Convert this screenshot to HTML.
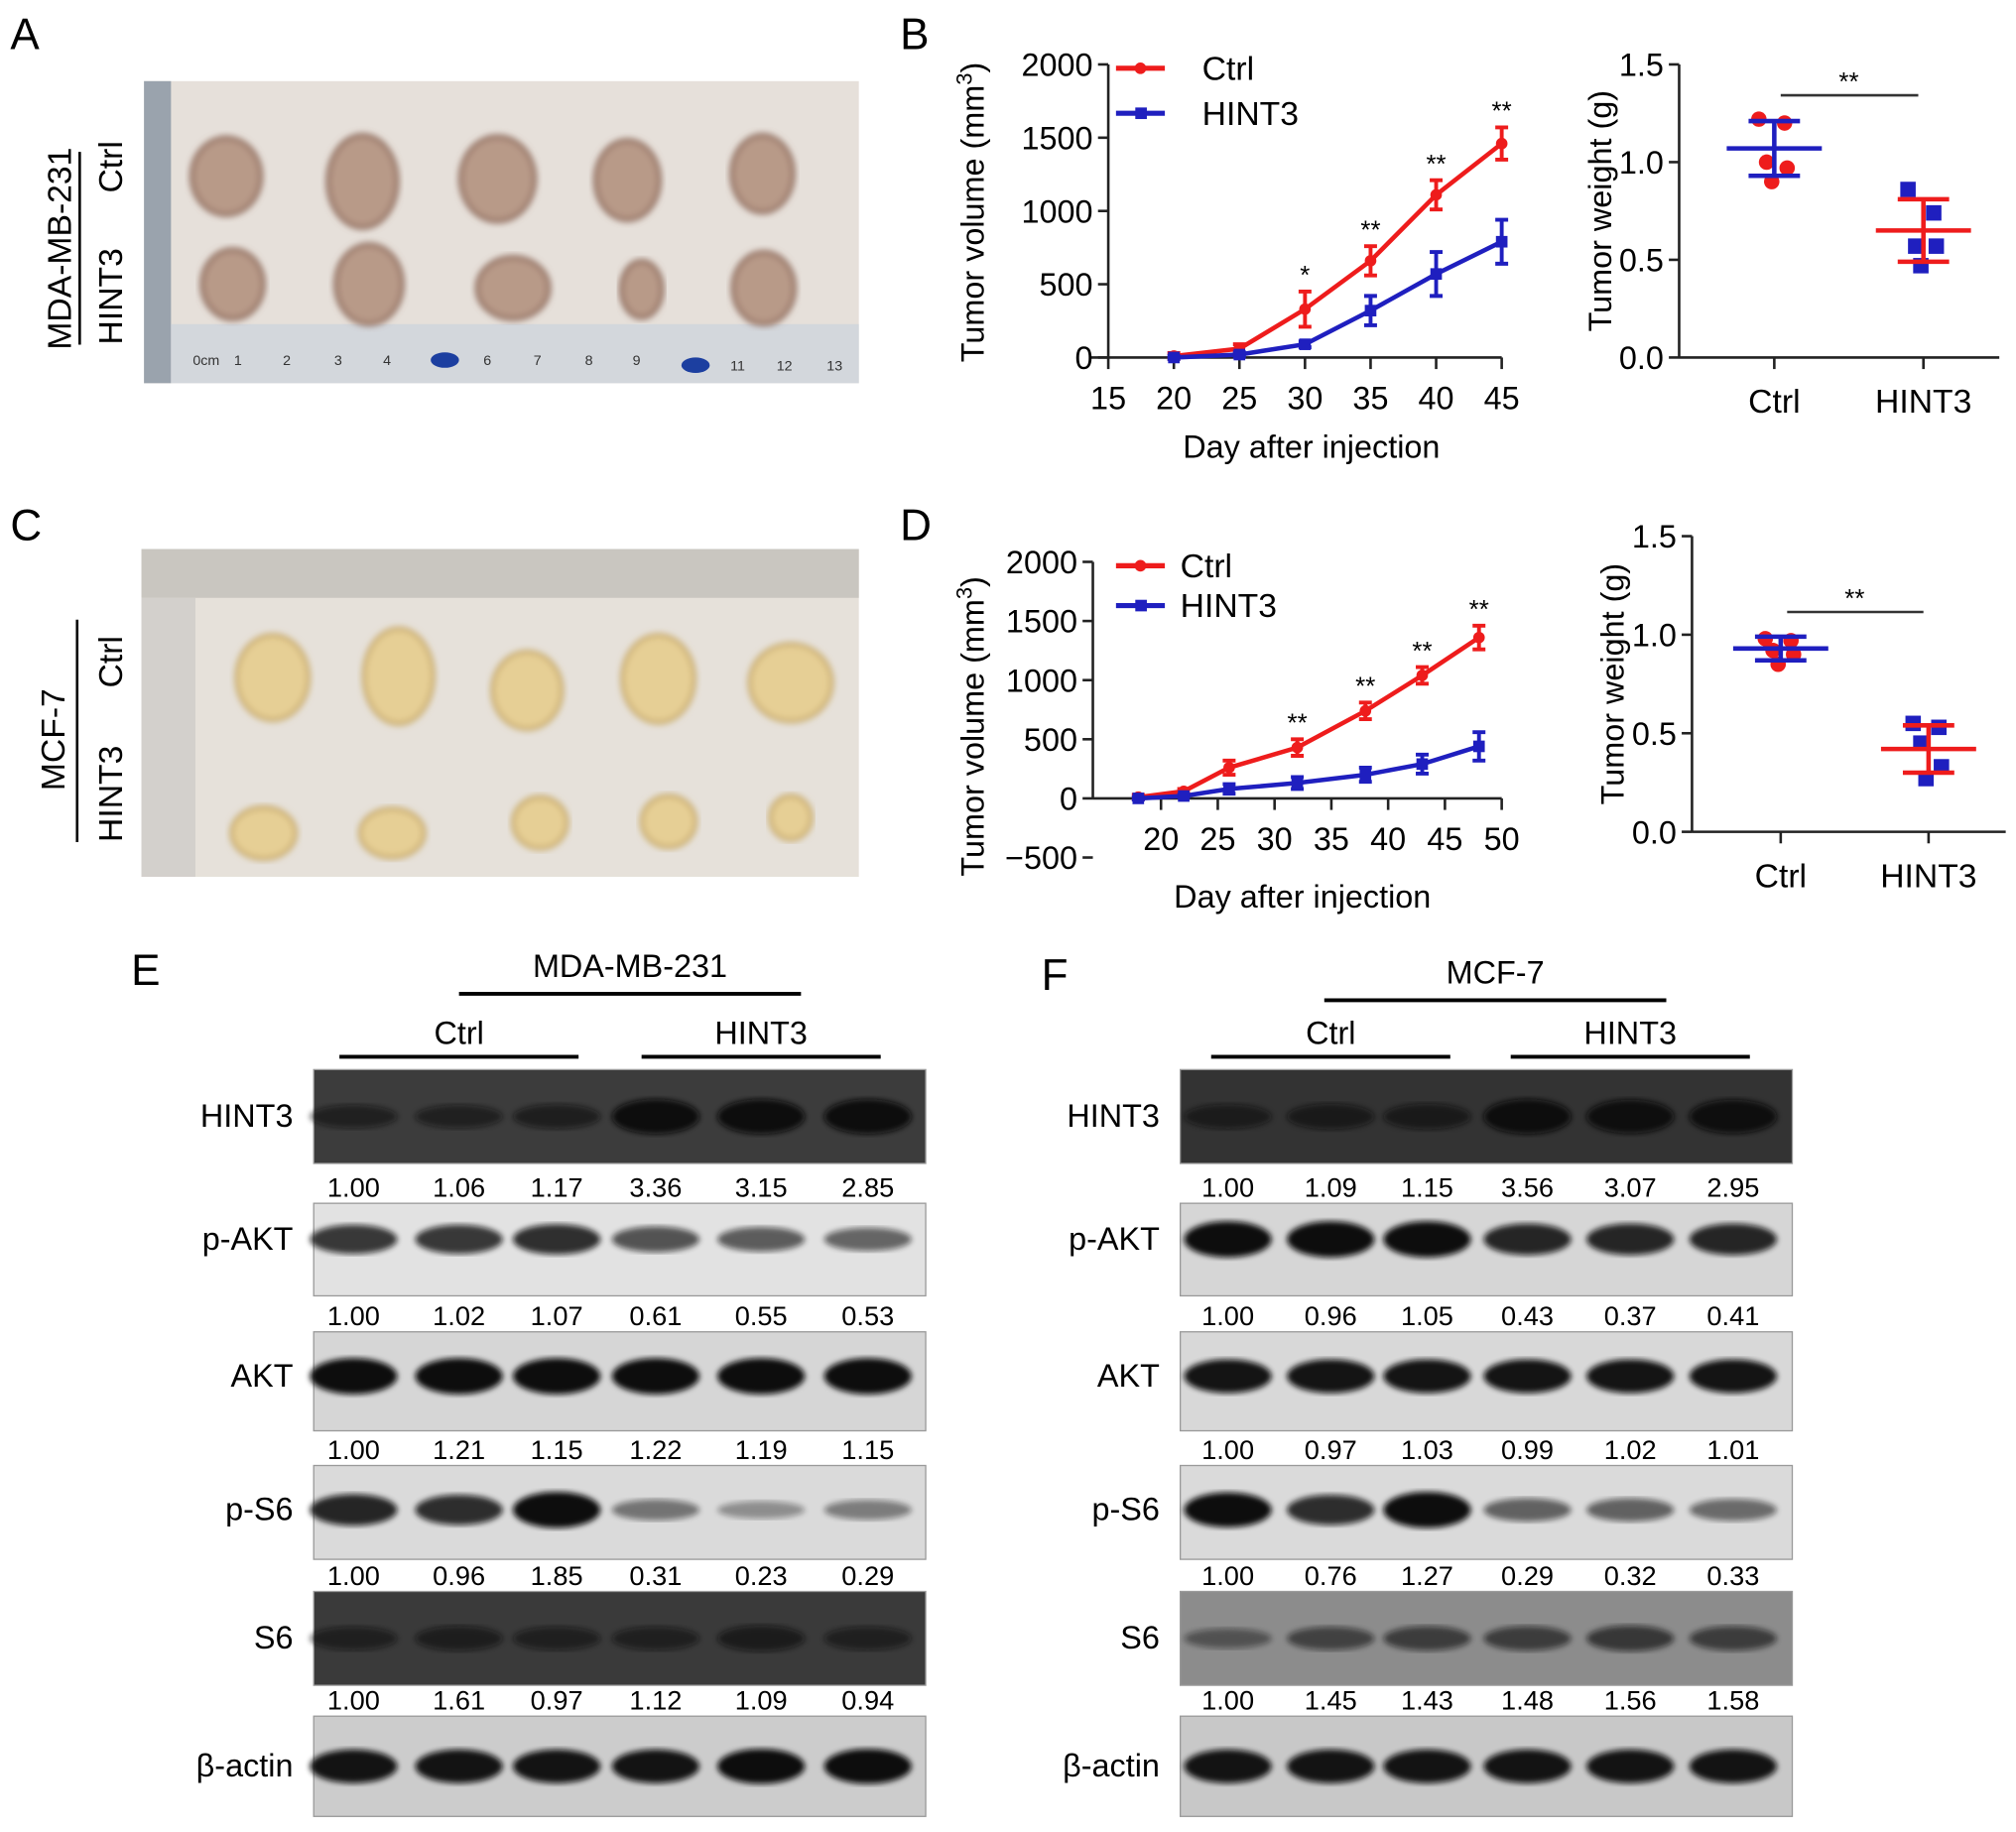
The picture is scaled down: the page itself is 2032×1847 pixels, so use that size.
<!DOCTYPE html>
<html><head><meta charset="utf-8">
<style>
html,body{margin:0;padding:0;background:#fff;}
svg{display:block;font-family:"Liberation Sans",Arial,sans-serif;}
</style></head>
<body>
<svg id="fig" width="2032" height="1847" viewBox="0 0 1568 1425" xmlns="http://www.w3.org/2000/svg">
<defs>
<filter id="blur2"><feGaussianBlur stdDeviation="2.5"/></filter>
<filter id="blur4"><feGaussianBlur stdDeviation="2.2"/></filter>
</defs>
<text x="8" y="38" font-size="34">A</text>
<text x="700" y="38" font-size="34">B</text>
<text x="8" y="420" font-size="34">C</text>
<text x="700" y="420" font-size="34">D</text>
<text x="102" y="766" font-size="34">E</text>
<text x="810" y="770" font-size="34">F</text>

<g>
<rect x="112" y="63" width="556" height="235" fill="#e6e0da"/>
<rect x="112" y="63" width="21" height="235" fill="#9aa3ad"/>
<rect x="133" y="252" width="535" height="46" fill="#d3d7dc"/>
<g id="tumorsA"></g>
<g font-size="11" fill="#333">
<text x="150" y="284">0cm</text><text x="182" y="284">1</text><text x="220" y="284">2</text><text x="260" y="284">3</text><text x="298" y="284">4</text>
<ellipse cx="346" cy="280" rx="11" ry="6" fill="#1c3fa0"/><text x="376" y="284">6</text><text x="415" y="284">7</text><text x="455" y="284">8</text><text x="492" y="284">9</text>
<ellipse cx="541" cy="284" rx="11" ry="6" fill="#1c3fa0"/><text x="568" y="288">11</text><text x="604" y="288">12</text><text x="643" y="288">13</text>
</g>
</g>
<g font-size="26">
<text transform="translate(55,272) rotate(-90)">MDA-MB-231</text>
<line x1="62" y1="268" x2="62" y2="118" stroke="#000" stroke-width="2"/>
<text transform="translate(95,150) rotate(-90)">Ctrl</text>
<text transform="translate(95,268) rotate(-90)">HINT3</text>
</g>

<g>
<rect x="110" y="427" width="558" height="255" fill="#e6e1da"/>
<rect x="110" y="427" width="558" height="38" fill="#c9c6c0"/>
<rect x="110" y="465" width="42" height="217" fill="#d3d0cc"/>
<g id="tumorsC"></g>
</g>
<g font-size="26">
<text transform="translate(50,615) rotate(-90)">MCF-7</text>
<line x1="60" y1="655" x2="60" y2="482" stroke="#000" stroke-width="2"/>
<text transform="translate(95,535) rotate(-90)">Ctrl</text>
<text transform="translate(95,655) rotate(-90)">HINT3</text>
</g>

<g id="charts"></g>
<g id="blots"></g>
</svg>
<script>
const NS="http://www.w3.org/2000/svg";
function mk(parent,tag,attrs,txt){const e=document.createElementNS(NS,tag);for(const k in attrs)e.setAttribute(k,attrs[k]);if(txt!==undefined)e.textContent=txt;parent.appendChild(e);return e;}
const charts=document.getElementById('charts');

const bDays=[20,25,30,35,40,45];
const bCtrl=[10,60,330,660,1110,1460];
const bCtrlErr=[20,30,120,100,100,110];
const bHint=[0,20,90,320,570,790];
const bHintErr=[10,15,20,100,150,150];
const bStars=["","","*","**","**","**"];
const bXTicks=[15,20,25,30,35,40,45];
const bYTicks=[0,500,1000,1500,2000];
const dDays=[18,22,26,32,38,43,48];
const dCtrl=[10,60,260,430,740,1040,1360];
const dCtrlErr=[20,20,60,70,70,70,100];
const dHint=[0,20,80,130,200,290,440];
const dHintErr=[10,10,40,50,60,80,120];
const dStars=["","","","**","**","**","**"];
const dXTicks=[20,25,30,35,40,45,50];
const dYTicks=[-500,0,500,1000,1500,2000];
const bwCats=["Ctrl","HINT3"];
const bwCtrl=[1.22,1.20,1.00,0.97,0.90];
const bwHint=[0.86,0.74,0.57,0.57,0.47];
const bwMean=[1.07,0.65];
const bwSd=[0.14,0.16];
const dwCtrl=[0.98,0.97,0.92,0.90,0.85];
const dwHint=[0.55,0.53,0.45,0.33,0.27];
const dwMean=[0.93,0.42];
const dwSd=[0.06,0.12];
const wTicks=[0.0,0.5,1.0,1.5];

function lineChart(cfg){
  const g=mk(charts,'g',{});
  
  
  const X=v=>cfg.x0+(v-cfg.xmin)/(cfg.xmax-cfg.xmin)*(cfg.x1-cfg.x0);
  const Y=v=>cfg.y0+(v-cfg.ymin)/(cfg.ymax-cfg.ymin)*(cfg.y1-cfg.y0);
  const ya=mk(g,'line',{x1:cfg.x0,y1:Y(cfg.ymin),x2:cfg.x0,y2:Y(cfg.ymax),stroke:'#222','stroke-width':2});
  
  
  const xa=mk(g,'line',{x1:cfg.axLeft,y1:Y(0),x2:X(cfg.xTicks[cfg.xTicks.length-1]),y2:Y(0),stroke:'#222','stroke-width':2});
  
  
  cfg.yTicks.forEach(t=>{
    mk(g,'line',{x1:cfg.x0-8,y1:Y(t),x2:cfg.x0,y2:Y(t),stroke:'#222','stroke-width':2});
    const tl=mk(g,'text',{x:cfg.x0-12,y:Y(t)+9,'font-size':25,'text-anchor':'end'},(t<0?'\u2212'+(-t):t));
    
    
  });
  cfg.xTicks.forEach(t=>{
    mk(g,'line',{x1:X(t),y1:Y(0),x2:X(t),y2:Y(0)+9,stroke:'#222','stroke-width':2});
    const tl=mk(g,'text',{x:X(t),y:cfg.xLabelY,'font-size':25,'text-anchor':'middle'},t);
    
    
  });
  const yt=mk(g,'text',{transform:`translate(${cfg.yTitleX},${cfg.yTitleY}) rotate(-90)`,'font-size':25,'text-anchor':'middle'});
  
  
  yt.appendChild(document.createTextNode('Tumor volume (mm'));
  mk(yt,'tspan',{dy:-9,'font-size':17},'3');
  mk(yt,'tspan',{dy:9},')');
  const xt=mk(g,'text',{x:cfg.xTitleX,y:cfg.xTitleY,'font-size':25,'text-anchor':'middle'},'Day after injection');
  
  
  const series=[[cfg.ctrl,cfg.ctrlErr,'#ee1c1c','ctrl'],[cfg.hint,cfg.hintErr,'#1f1fbf','hint3']];
  series.forEach(([vals,errs,col,nm])=>{
    const pts=vals.map((v,i)=>X(cfg.days[i])+','+Y(v)).join(' ');
    const pl=mk(g,'polyline',{points:pts,fill:'none',stroke:col,'stroke-width':3.5});
    
    
    vals.forEach((v,i)=>{
      const x=X(cfg.days[i]);
      const eb=mk(g,'path',{d:`M${x},${Y(v-errs[i])}V${Y(v+errs[i])}M${x-5},${Y(v-errs[i])}h10M${x-5},${Y(v+errs[i])}h10`,stroke:col,'stroke-width':3,fill:'none'});
      
      
      const p=nm==='ctrl'?mk(g,'circle',{cx:x,cy:Y(v),r:4.5,fill:col}):mk(g,'rect',{x:x-4.5,y:Y(v)-4.5,width:9,height:9,fill:col});
      
      
    });
  });
  cfg.stars.forEach((s,i)=>{
    if(!s)return;
    const st=mk(g,'text',{x:X(cfg.days[i]),y:Y(cfg.ctrl[i]+cfg.ctrlErr[i])-6,'font-size':20,'text-anchor':'middle'},s);
    
    
  });
  [[ 'Ctrl','#ee1c1c',cfg.legY],['HINT3','#1f1fbf',cfg.legY+cfg.legGap]].forEach(([t,c,y],k)=>{
    const lg=mk(g,'g',{});
    
    
    mk(lg,'line',{x1:cfg.legX,y1:y,x2:cfg.legX+38,y2:y,stroke:c,'stroke-width':4});
    if(k===0)mk(lg,'circle',{cx:cfg.legX+19,cy:y,r:4.5,fill:c});else mk(lg,'rect',{x:cfg.legX+15,y:y-4.5,width:9,height:9,fill:c});
    mk(lg,'text',{x:cfg.legTextX,y:y+9,'font-size':26},t);
  });
}
lineChart({name:'tumor-volume-chart-b',x0:862,x1:1168,xmin:15,xmax:45,y0:278,y1:50,ymin:0,ymax:2000,axLeft:848,
  days:bDays,ctrl:bCtrl,ctrlErr:bCtrlErr,hint:bHint,hintErr:bHintErr,stars:bStars,xTicks:bXTicks,yTicks:bYTicks,
  xLabelY:318,yTitleX:765,yTitleY:165,xTitleX:1020,xTitleY:356,legX:868,legTextX:935,legY:53,legGap:35});
lineChart({name:'tumor-volume-chart-d',x0:850,x1:1168,xmin:14,xmax:50,y0:621,y1:437,ymin:0,ymax:2000,axLeft:850,
  days:dDays,ctrl:dCtrl,ctrlErr:dCtrlErr,hint:dHint,hintErr:dHintErr,stars:dStars,xTicks:dXTicks,yTicks:dYTicks,
  xLabelY:661,yTitleX:765,yTitleY:565,xTitleX:1013,xTitleY:706,legX:868,legTextX:918,legY:440,legGap:31});

function scatterChart(cfg){
  const g=mk(charts,'g',{});
  
  
  const Y=v=>cfg.y0+v/1.5*(cfg.y1-cfg.y0);
  const xs=cfg.catX;
  mk(g,'line',{x1:cfg.x0,y1:Y(0),x2:cfg.x0,y2:Y(1.5),stroke:'#222','stroke-width':2});
  mk(g,'line',{x1:cfg.x0,y1:Y(0),x2:cfg.xEnd,y2:Y(0),stroke:'#222','stroke-width':2});
  wTicks.forEach(t=>{
    mk(g,'line',{x1:cfg.x0-8,y1:Y(t),x2:cfg.x0,y2:Y(t),stroke:'#222','stroke-width':2});
    const tl=mk(g,'text',{x:cfg.x0-12,y:Y(t)+9,'font-size':25,'text-anchor':'end'},t.toFixed(1));
    
    
  });
  bwCats.forEach((c,i)=>{
    mk(g,'line',{x1:xs[i],y1:Y(0),x2:xs[i],y2:Y(0)+9,stroke:'#222','stroke-width':2});
    const tl=mk(g,'text',{x:xs[i],y:Y(0)+43,'font-size':26,'text-anchor':'middle'},c);
    
    
  });
  const yt=mk(g,'text',{transform:`translate(${cfg.x0-53},${(Y(0)+Y(1.5))/2}) rotate(-90)`,'font-size':25,'text-anchor':'middle'},'Tumor weight (g)');
  
  
  const offs=[-12,8,-6,10,-2];
  cfg.ctrl.forEach((v,i)=>{const p=mk(g,'circle',{cx:xs[0]+offs[i],cy:Y(v),r:6,fill:'#ee1c1c'});
    
    });
  cfg.hint.forEach((v,i)=>{const p=mk(g,'rect',{x:xs[1]+offs[i]-6,y:Y(v)-6,width:12,height:12,fill:'#1f1fbf'});
    
    });
  const cols=['#1f1fbf','#ee1c1c'];
  [0,1].forEach(i=>{
    const m=cfg.mean[i],s=cfg.sd[i],x=xs[i],c=cols[i];
    const eb=mk(g,'path',{d:`M${x},${Y(m-s)}V${Y(m+s)}M${x-20},${Y(m-s)}h40M${x-20},${Y(m+s)}h40M${x-37},${Y(m)}h74`,stroke:c,'stroke-width':3.5,fill:'none'});
    
    
  });
  const sl=mk(g,'line',{x1:xs[0]+5,y1:cfg.sigY,x2:xs[1]-4,y2:cfg.sigY,stroke:'#333','stroke-width':2});
  
  
  const st=mk(g,'text',{x:(xs[0]+xs[1])/2,y:cfg.sigY-4,'font-size':20,'text-anchor':'middle'},'**');
  
  
}
scatterChart({name:'tumor-weight-chart-b',x0:1306,xEnd:1555,y0:278,y1:50,catX:[1380,1496],ctrl:bwCtrl,hint:bwHint,mean:bwMean,sd:bwSd,sigY:74});
scatterChart({name:'tumor-weight-chart-d',x0:1316,xEnd:1560,y0:647,y1:417,catX:[1385,1500],ctrl:dwCtrl,hint:dwHint,mean:dwMean,sd:dwSd,sigY:476});

function tumors(id,items,col,edge){
  const g=document.getElementById(id);
  items.forEach(([cx,cy,rx,ry])=>{
    const e=mk(g,'ellipse',{cx,cy,rx,ry,fill:col,stroke:edge,'stroke-width':3,filter:'url(#blur2)'});
    
    
  });
}
tumors('tumorsA',[[176,137,27,30],[282,141,27,36],[387,139,29,33],[488,140,25,31],[593,135,24,30],[181,221,24,27],[287,221,26,31],[399,224,28,24],[499,225,16,22],[594,224,24,28]],'#b89a88','#8a6555');
tumors('tumorsC',[[212,527,28,33],[310,526,27,37],[410,537,27,30],[512,528,28,34],[615,531,32,30],[205,648,25,20],[305,648,25,19],[420,640,21,20],[520,639,21,20],[615,636,16,17]],'#e6cf95','#c7a866');

const blots=document.getElementById('blots');
const blotRows=["HINT3","p-AKT","AKT","p-S6","S6","\u03b2-actin"];
const eVals=[["1.00","1.06","1.17","3.36","3.15","2.85"],["1.00","1.02","1.07","0.61","0.55","0.53"],["1.00","1.21","1.15","1.22","1.19","1.15"],["1.00","0.96","1.85","0.31","0.23","0.29"],["1.00","1.61","0.97","1.12","1.09","0.94"]];
const fVals=[["1.00","1.09","1.15","3.56","3.07","2.95"],["1.00","0.96","1.05","0.43","0.37","0.41"],["1.00","0.97","1.03","0.99","1.02","1.01"],["1.00","0.76","1.27","0.29","0.32","0.33"],["1.00","1.45","1.43","1.48","1.56","1.58"]];
const eBg=['#3c3c3c','#e2e2e2','#d6d6d6','#dadada','#3a3a3a','#cccccc'];
const fBg=['#333333','#d6d6d6','#d8d8d8','#dadada','#8c8c8c','#c8c8c8'];
const eBand=[[0.45,0.45,0.5,0.95,0.95,0.95],[0.7,0.7,0.75,0.55,0.5,0.45],[1,1,1,1,1,1],[0.8,0.75,1,0.35,0.2,0.3],[0.45,0.5,0.45,0.45,0.55,0.45],[0.9,0.9,0.9,0.9,0.95,0.95]];
const fBand=[[0.5,0.55,0.55,0.95,0.9,0.9],[1,1,1,0.8,0.8,0.8],[0.9,0.9,0.9,0.9,0.9,0.9],[0.95,0.75,1,0.45,0.45,0.4],[0.3,0.45,0.5,0.5,0.55,0.5],[0.9,0.9,0.9,0.9,0.9,0.9]];
const bandOff=[0,-8,-4,-2,0,0];
const rowsY=[[832,905],[936,1008],[1036,1113],[1140,1213],[1238,1311],[1335,1413]];
function blotPanel(p){
  const g=mk(blots,'g',{});
  
  
  const ct=mk(g,'text',{x:p.cellX,y:p.cellY,'font-size':25,'text-anchor':'middle'},p.cell);
  
  
  mk(g,'line',{x1:p.cellX-133,y1:p.cellY+13,x2:p.cellX+133,y2:p.cellY+13,stroke:'#000','stroke-width':3});
  [['Ctrl',p.lanes[1]],['HINT3',p.lanes[4]]].forEach(([t,cx])=>{
    const gt=mk(g,'text',{x:cx,y:812,'font-size':25,'text-anchor':'middle'},t);
    
    
    mk(g,'line',{x1:cx-93,y1:822,x2:cx+93,y2:822,stroke:'#000','stroke-width':3});
  });
  blotRows.forEach((r,i)=>{
    const [y0,y1]=rowsY[i];
    const rg=mk(g,'g',{});
    
    
    mk(rg,'rect',{x:p.x0,y:y0,width:p.x1-p.x0,height:y1-y0,fill:p.bg[i],stroke:'#999','stroke-width':1});
    const cy=(y0+y1)/2+bandOff[i];
    p.lanes.forEach((lx,j)=>{
      const a=p.band[i][j];
      mk(rg,'ellipse',{cx:lx,cy:cy,rx:34,ry:5+9*a,fill:'#080808',opacity:Math.min(1,0.2+0.85*a),filter:'url(#blur4)'});
    });
    const lt=mk(g,'text',{x:p.labelX,y:cy+8,'font-size':25,'text-anchor':'end'},r);
    
    
    if(i<5){
      const by=rowsY[i+1][0]-5;
      p.vals[i].forEach((v,j)=>{
        const nt=mk(g,'text',{x:p.lanes[j],y:by,'font-size':21,'text-anchor':'middle'},v);
        
        
      });
    }
  });
}
blotPanel({name:'western-blot-e',x0:244,x1:720,lanes:[275,357,433,510,592,675],labelX:228,cell:'MDA-MB-231',cellX:490,cellY:760,vals:eVals,bg:eBg,band:eBand});
blotPanel({name:'western-blot-f',x0:918,x1:1394,lanes:[955,1035,1110,1188,1268,1348],labelX:902,cell:'MCF-7',cellX:1163,cellY:765,vals:fVals,bg:fBg,band:fBand});
</script>
</body></html>
